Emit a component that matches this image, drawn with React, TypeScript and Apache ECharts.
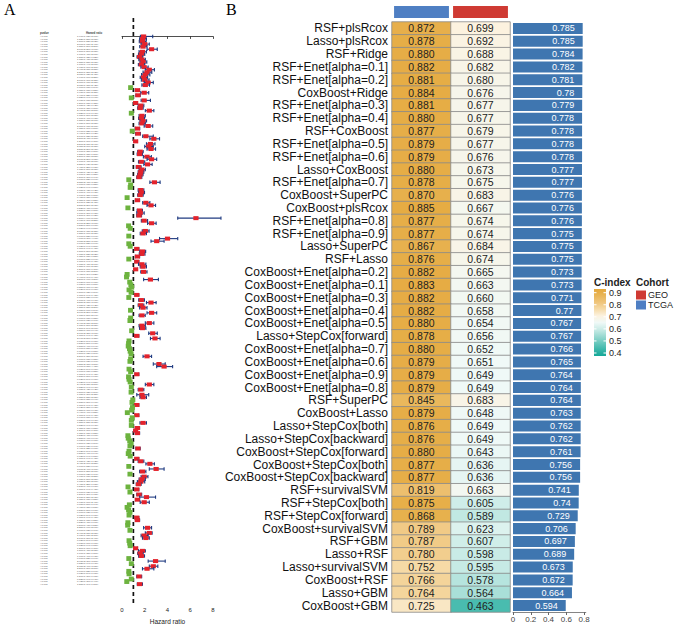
import React, { useEffect, useRef } from "react";
import * as echarts from "echarts";

// ---------- Panel A: univariate Cox forest plot ----------
const hazardRatio = [
  1.90,1.82,1.80,2.00,1.85,2.60,1.80,1.70,1.55,1.75,
  1.85,1.70,1.95,2.40,2.20,2.05,1.90,2.00,2.30,2.05,
  0.76,1.35,1.95,1.40,0.82,1.95,1.20,1.65,1.60,2.40,
  0.82,1.75,1.70,1.85,1.75,2.30,1.35,0.90,1.40,2.10,
  2.80,1.20,2.50,2.35,2.55,1.60,1.55,2.20,2.60,1.70,
  2.25,1.45,1.75,1.65,1.60,1.50,0.60,2.85,0.76,0.72,
  1.65,1.70,1.60,0.45,1.35,2.10,2.55,0.52,1.55,1.60,
  1.50,6.50,1.95,2.60,0.58,0.72,2.05,1.85,0.60,4.00,
  3.05,0.60,0.72,1.30,1.80,1.75,1.35,0.60,1.30,1.75,
  1.85,1.20,1.90,0.45,0.40,2.50,0.68,0.78,0.85,0.62,
  0.80,1.30,0.60,1.70,2.55,1.65,1.85,0.75,2.60,1.75,
  0.76,0.70,2.40,1.75,1.80,0.85,2.70,1.30,2.90,0.62,
  0.58,0.55,0.66,0.72,0.80,2.20,0.76,0.70,3.25,3.70,
  0.62,0.76,1.30,0.58,0.62,0.72,2.40,0.82,1.65,0.80,
  1.75,1.85,0.95,0.88,1.30,0.92,0.85,0.47,1.30,0.90,
  0.82,1.85,0.82,1.35,1.20,1.35,0.52,0.55,0.68,0.80,
  0.70,1.40,0.62,0.55,0.72,1.30,1.65,2.45,0.60,3.00,
  1.80,0.70,1.95,1.75,1.65,1.45,0.53,1.30,0.70,1.50,
  2.15,1.35,1.95,0.65,0.45,0.58,0.70,0.62,1.30,1.35,
  0.52,0.50,2.25,0.70,2.40,1.95,2.10,0.62,0.68,0.72,
  1.20,1.80,1.60,1.70,0.60,2.95,0.82,2.75,2.20,0.60,
  0.62,1.50,0.82,0.42,1.55,
];
const ciLower = [
  1.62,1.55,1.52,1.68,1.56,2.20,1.50,1.45,1.32,1.48,
  1.58,1.44,1.66,2.05,1.85,1.72,1.60,1.70,1.95,1.75,
  0.68,1.18,1.65,1.22,0.74,1.68,1.08,1.42,1.38,2.05,
  0.74,1.50,1.46,1.58,1.50,1.95,1.16,0.82,1.20,1.82,
  2.45,1.06,2.15,2.00,2.20,1.38,1.33,1.88,2.20,1.45,
  1.92,1.25,1.50,1.42,1.38,1.30,0.52,2.45,0.68,0.64,
  1.42,1.46,1.38,0.38,1.18,1.82,2.20,0.45,1.33,1.30,
  1.30,4.90,1.70,2.25,0.50,0.64,1.78,1.60,0.52,3.30,
  2.55,0.52,0.64,1.14,1.56,1.52,1.18,0.52,1.14,1.45,
  1.60,1.06,1.65,0.39,0.34,1.90,0.60,0.70,0.77,0.54,
  0.72,1.14,0.52,1.47,2.15,1.42,1.55,0.67,2.20,1.50,
  0.68,0.62,2.05,1.50,1.54,0.77,2.35,1.14,2.50,0.54,
  0.50,0.47,0.58,0.64,0.72,1.85,0.68,0.62,2.75,3.05,
  0.54,0.68,1.14,0.50,0.54,0.64,2.05,0.74,1.42,0.72,
  1.30,1.58,0.88,0.80,1.14,0.85,0.77,0.40,1.14,0.83,
  0.74,1.58,0.74,1.18,1.06,1.18,0.45,0.47,0.60,0.72,
  0.62,1.22,0.54,0.47,0.64,1.14,1.42,2.10,0.52,2.40,
  1.55,0.62,1.68,1.50,1.35,1.25,0.46,1.14,0.62,1.30,
  1.55,1.18,1.60,0.57,0.38,0.50,0.62,0.54,1.14,1.18,
  0.45,0.43,1.90,0.62,2.05,1.68,1.80,0.54,0.60,0.64,
  1.06,1.45,1.38,1.46,0.52,2.30,0.74,2.40,1.80,0.52,
  0.54,1.30,0.74,0.36,1.34,
];
const ciUpper = [
  2.70,2.15,2.12,2.40,2.20,3.10,2.15,2.00,1.82,2.05,
  2.18,2.00,2.30,2.85,2.62,2.45,2.25,2.38,2.75,2.42,
  0.84,1.55,2.35,1.60,0.90,2.50,1.35,1.92,1.86,2.80,
  0.91,2.05,1.98,2.16,2.05,2.70,1.56,0.98,1.62,2.75,
  3.30,1.36,2.90,2.75,2.95,1.86,1.80,2.58,3.05,2.00,
  2.65,1.68,2.05,1.92,1.85,1.74,0.69,3.35,0.85,0.81,
  1.92,1.98,1.86,0.53,1.55,2.45,2.95,0.60,1.80,1.95,
  1.72,8.70,2.25,3.00,0.67,0.81,2.38,2.15,0.69,4.90,
  3.70,0.69,0.80,1.48,2.08,2.02,1.55,0.69,1.48,2.10,
  2.15,1.36,2.20,0.52,0.47,3.20,0.77,0.87,0.93,0.71,
  0.89,1.48,0.69,1.97,3.00,1.92,2.20,0.84,3.05,2.04,
  0.85,0.79,2.80,2.05,2.10,0.94,3.10,1.48,3.35,0.71,
  0.67,0.64,0.75,0.81,0.89,2.60,0.85,0.79,3.80,4.45,
  0.71,0.85,1.48,0.67,0.71,0.81,2.80,0.91,1.92,0.89,
  2.35,2.15,0.99,0.96,1.48,0.98,0.93,0.55,1.48,0.97,
  0.91,2.15,0.91,1.55,1.36,1.55,0.60,0.64,0.77,0.89,
  0.79,1.60,0.71,0.64,0.81,1.48,1.92,2.85,0.69,3.70,
  2.10,0.79,2.28,2.05,2.00,1.68,0.61,1.48,0.79,1.73,
  2.95,1.55,2.40,0.74,0.53,0.67,0.79,0.71,1.48,1.55,
  0.60,0.58,2.60,0.79,2.65,2.30,2.40,0.71,0.77,0.81,
  1.36,2.05,1.86,1.98,0.69,3.80,0.91,3.15,2.80,0.69,
  0.71,1.73,0.91,0.49,1.80,
];
const pValueLabel = "<0.001";
const forestTicks = [0, 2, 4, 6, 8];
const referenceHR = 1;

// ---------- Panel B: C-index heatmap + mean bars ----------
const methods = [
  "RSF+plsRcox", "Lasso+plsRcox", "RSF+Ridge", "RSF+Enet[alpha=0.1]", "RSF+Enet[alpha=0.2]",
  "CoxBoost+Ridge", "RSF+Enet[alpha=0.3]", "RSF+Enet[alpha=0.4]", "RSF+CoxBoost", "RSF+Enet[alpha=0.5]",
  "RSF+Enet[alpha=0.6]", "Lasso+CoxBoost", "RSF+Enet[alpha=0.7]", "CoxBoost+SuperPC", "CoxBoost+plsRcox",
  "RSF+Enet[alpha=0.8]", "RSF+Enet[alpha=0.9]", "Lasso+SuperPC", "RSF+Lasso", "CoxBoost+Enet[alpha=0.2]",
  "CoxBoost+Enet[alpha=0.1]", "CoxBoost+Enet[alpha=0.3]", "CoxBoost+Enet[alpha=0.4]", "CoxBoost+Enet[alpha=0.5]", "Lasso+StepCox[forward]",
  "CoxBoost+Enet[alpha=0.7]", "CoxBoost+Enet[alpha=0.6]", "CoxBoost+Enet[alpha=0.9]", "CoxBoost+Enet[alpha=0.8]", "RSF+SuperPC",
  "CoxBoost+Lasso", "Lasso+StepCox[both]", "Lasso+StepCox[backward]", "CoxBoost+StepCox[forward]", "CoxBoost+StepCox[both]",
  "CoxBoost+StepCox[backward]", "RSF+survivalSVM", "RSF+StepCox[both]", "RSF+StepCox[forward]", "CoxBoost+survivalSVM",
  "RSF+GBM", "Lasso+RSF", "Lasso+survivalSVM", "CoxBoost+RSF", "Lasso+GBM",
  "CoxBoost+GBM",
];
const tcgaCindex = [
  0.872, 0.878, 0.880, 0.882, 0.881, 0.884, 0.881, 0.880, 0.877, 0.879,
  0.879, 0.880, 0.878, 0.870, 0.885, 0.877, 0.877, 0.867, 0.876, 0.882,
  0.883, 0.882, 0.882, 0.880, 0.878, 0.880, 0.879, 0.879, 0.879, 0.845,
  0.879, 0.876, 0.876, 0.880, 0.877, 0.877, 0.819, 0.875, 0.868, 0.789,
  0.787, 0.780, 0.752, 0.766, 0.764, 0.725,
];
const geoCindex = [
  0.699, 0.692, 0.688, 0.682, 0.680, 0.676, 0.677, 0.677, 0.679, 0.677,
  0.676, 0.673, 0.675, 0.683, 0.667, 0.674, 0.674, 0.684, 0.674, 0.665,
  0.663, 0.660, 0.658, 0.654, 0.656, 0.652, 0.651, 0.649, 0.649, 0.683,
  0.648, 0.649, 0.649, 0.643, 0.636, 0.636, 0.663, 0.605, 0.589, 0.623,
  0.607, 0.598, 0.595, 0.578, 0.564, 0.463,
];
const meanCindex = [
  0.785, 0.785, 0.784, 0.782, 0.781, 0.78, 0.779, 0.778, 0.778, 0.778,
  0.778, 0.777, 0.777, 0.776, 0.776, 0.776, 0.775, 0.775, 0.775, 0.773,
  0.773, 0.771, 0.77, 0.767, 0.767, 0.766, 0.765, 0.764, 0.764, 0.764,
  0.763, 0.762, 0.762, 0.761, 0.756, 0.756, 0.741, 0.74, 0.729, 0.706,
  0.697, 0.689, 0.673, 0.672, 0.664, 0.594,
];
const cohorts = ["TCGA", "GEO"];
const cohortColors = ["#4f7fc3", "#cf3a33"];
const legendCohorts = ["GEO", "TCGA"];
const legendCohortColors = ["#cf3a33", "#4f7fc3"];
const cindexTicks = [0.9, 0.8, 0.7, 0.6, 0.5, 0.4];
const cindexColors = [
  "#14a898", "#3db7aa", "#6cc9be", "#9cdad2", "#cbece7", "#f0f9f7",
  "#fcf2df", "#f6dba8", "#efc57c", "#e9b658", "#e4a73a",
];

const FONT = "'Liberation Sans', Arial, Helvetica, sans-serif";
const SERIF = "'Liberation Serif', 'Times New Roman', serif";

export default function App() {
  const ref = useRef<HTMLDivElement>(null);

  useEffect(() => {
    document.body.style.margin = "0";
    if (!ref.current) return;
    const chart = echarts.init(ref.current, undefined, { renderer: "svg" });

    const forestData = hazardRatio.map((hr, i) => [i, hr, ciLower[i], ciUpper[i]]);
    const heatData: number[][] = [];
    methods.forEach((_, i) => {
      heatData.push([0, i, tcgaCindex[i]]);
      heatData.push([1, i, geoCindex[i]]);
    });

    const legX = 594;
    const legTop = 289;
    const legH = 67;
    const tickY0 = 292.7;
    const tickStep = 12.06;
    const cohX = 636;
    const gradStops = cindexColors
      .slice()
      .reverse()
      .map((c, i) => ({ offset: i / (cindexColors.length - 1), color: c }));

    const graphic: any[] = [
      { type: "text", x: 4, y: 1, style: { text: "A", font: `16px ${SERIF}`, fill: "#000" } },
      { type: "text", x: 226, y: 1, style: { text: "B", font: `16px ${SERIF}`, fill: "#000" } },
      { type: "text", x: 40, y: 33, style: { text: "pvalue", fontSize: 2.8, fontWeight: "bold", fill: "#444", verticalAlign: "middle" } },
      { type: "text", x: 86, y: 33, style: { text: "Hazard ratio", fontSize: 2.8, fontWeight: "bold", fill: "#444", verticalAlign: "middle" } },
      // C-index legend
      { type: "text", x: legX, y: 282, style: { text: "C-index", font: `bold 10px ${FONT}`, fill: "#222", verticalAlign: "middle" } },
      {
        type: "rect",
        shape: { x: legX, y: legTop, width: 12, height: legH },
        style: { fill: new echarts.graphic.LinearGradient(0, 0, 0, 1, gradStops) },
      },
      ...cindexTicks.flatMap((t, i) => [
        { type: "line", shape: { x1: legX, y1: tickY0 + i * tickStep, x2: legX + 2.5, y2: tickY0 + i * tickStep }, style: { stroke: "#fff", lineWidth: 1 } },
        { type: "line", shape: { x1: legX + 9.5, y1: tickY0 + i * tickStep, x2: legX + 12, y2: tickY0 + i * tickStep }, style: { stroke: "#fff", lineWidth: 1 } },
        { type: "text", x: legX + 15, y: tickY0 + i * tickStep, style: { text: String(t), font: `9px ${FONT}`, fill: "#222", verticalAlign: "middle" } },
      ]),
      // Cohort legend
      { type: "text", x: cohX, y: 282, style: { text: "Cohort", font: `bold 10px ${FONT}`, fill: "#222", verticalAlign: "middle" } },
      ...legendCohorts.flatMap((c, i) => [
        { type: "rect", shape: { x: cohX, y: 290.5 + i * 10, width: 10, height: 9 }, style: { fill: legendCohortColors[i] } },
        { type: "text", x: cohX + 12, y: 295 + i * 10, style: { text: c, font: `9px ${FONT}`, fill: "#222", verticalAlign: "middle" } },
      ]),
    ];

    const option: any = {
      animation: false,
      textStyle: { fontFamily: FONT },
      graphic,
      grid: [
        { left: 122, top: 18, width: 91, height: 590 }, // forest
        { left: 392, top: 22, width: 118, height: 590 }, // heatmap
        { left: 513, top: 22, width: 72.8, height: 590 }, // mean bars
        { left: 392, top: 6, width: 118, height: 12 }, // cohort annotation
      ],
      xAxis: [
        {
          gridIndex: 0,
          type: "value",
          min: forestTicks[0],
          max: forestTicks[forestTicks.length - 1],
          interval: 2,
          name: "Hazard ratio",
          nameLocation: "middle",
          nameGap: 12,
          nameTextStyle: { fontSize: 6.5, color: "#222" },
          axisLine: { show: true, lineStyle: { color: "#222", width: 0.8 } },
          axisTick: { show: true, length: 2.5, lineStyle: { color: "#222", width: 0.8 } },
          axisLabel: { fontSize: 6, color: "#222", margin: 2.5 },
          splitLine: { show: false },
        },
        { gridIndex: 1, type: "category", data: cohorts, show: false },
        {
          gridIndex: 2,
          type: "value",
          min: 0,
          max: 0.82,
          interval: 0.2,
          axisLine: { show: true, lineStyle: { color: "#666", width: 0.8 } },
          axisTick: { show: true, length: 3, lineStyle: { color: "#666" } },
          axisLabel: { fontSize: 8, color: "#444", margin: 3, showMaxLabel: false },
          splitLine: { show: false },
        },
        { gridIndex: 3, type: "category", data: cohorts, show: false },
      ],
      yAxis: [
        { gridIndex: 0, type: "value", inverse: true, min: -7.2, max: 222, show: false },
        {
          gridIndex: 1,
          type: "category",
          data: methods,
          inverse: true,
          axisLine: { show: false },
          axisTick: { show: false },
          axisLabel: { interval: 0, fontSize: 12, color: "#111", margin: 4 },
        },
        { gridIndex: 2, type: "category", data: methods, inverse: true, show: false },
        { gridIndex: 3, type: "value", min: 0, max: 1, show: false },
      ],
      visualMap: {
        show: false,
        type: "continuous",
        seriesIndex: 2,
        dimension: 2,
        min: 0.4,
        max: 0.9,
        inRange: { color: cindexColors },
      },
      series: [
        {
          type: "line",
          xAxisIndex: 0,
          yAxisIndex: 0,
          data: [[referenceHR, -7.2], [referenceHR, 222]],
          symbol: "none",
          lineStyle: { color: "#111", width: 1.7, type: [4, 3] },
          silent: true,
          z: 1,
        },
        {
          type: "custom",
          xAxisIndex: 0,
          yAxisIndex: 0,
          data: forestData,
          clip: false,
          z: 3,
          renderItem: (params: any, api: any) => {
            const row = api.value(0);
            const hr = api.value(1);
            const lo = api.value(2);
            const hi = api.value(3);
            const c = api.coord([hr, row]);
            const l = api.coord([lo, row]);
            const h = api.coord([hi, row]);
            const y = c[1];
            const up = hr > 1;
            const whisker = { stroke: "#1f3a80", lineWidth: 1.1 };
            return {
              type: "group",
              children: [
                { type: "line", shape: { x1: l[0], y1: y, x2: h[0], y2: y }, style: whisker },
                { type: "line", shape: { x1: l[0], y1: y - 1.7, x2: l[0], y2: y + 1.7 }, style: whisker },
                { type: "line", shape: { x1: h[0], y1: y - 1.7, x2: h[0], y2: y + 1.7 }, style: whisker },
                up
                  ? { type: "rect", shape: { x: c[0] - 2.6, y: y - 2, width: 5.2, height: 4 }, style: { fill: "#e3232c" } }
                  : { type: "rect", shape: { x: c[0] - 2.5, y: y - 2.4, width: 5, height: 4.8 }, style: { fill: "#6db33f" } },
                { type: "text", x: 40, y, style: { text: pValueLabel, fontSize: 2.5, fill: "#555", verticalAlign: "middle" } },
                {
                  type: "text",
                  x: 77,
                  y,
                  style: {
                    text: `${hr.toFixed(3)}(${lo.toFixed(3)}-${hi.toFixed(3)})`,
                    fontSize: 2.5,
                    fill: "#555",
                    verticalAlign: "middle",
                  },
                },
              ],
            };
          },
        },
        {
          type: "heatmap",
          xAxisIndex: 1,
          yAxisIndex: 1,
          data: heatData,
          itemStyle: { borderColor: "#8a8a8a", borderWidth: 0.8 },
          label: {
            show: true,
            fontSize: 10.5,
            color: "#222",
            formatter: (p: any) => Number(p.value[2]).toFixed(3),
          },
        },
        {
          type: "bar",
          xAxisIndex: 2,
          yAxisIndex: 2,
          data: meanCindex,
          barCategoryGap: "14%",
          itemStyle: { color: "#3f76b0" },
          label: {
            show: true,
            position: "insideRight",
            distance: 8,
            color: "#fff",
            fontSize: 9,
            formatter: (p: any) => String(p.value),
          },
        },
        {
          type: "bar",
          xAxisIndex: 3,
          yAxisIndex: 3,
          barCategoryGap: "7%",
          data: cohorts.map((c, i) => ({ name: c, value: 1, itemStyle: { color: cohortColors[i] } })),
        },
      ],
    };

    chart.setOption(option);
    return () => chart.dispose();
  }, []);

  return <div ref={ref} style={{ width: 676, height: 630 }} />;
}
